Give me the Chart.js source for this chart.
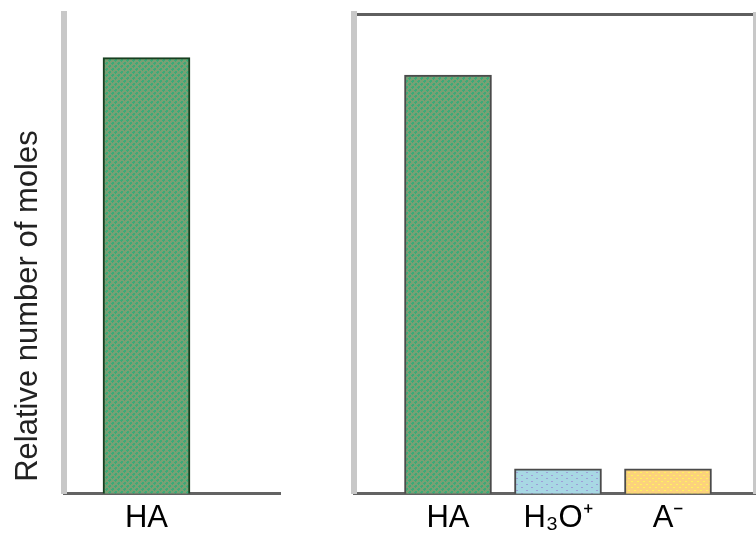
<!DOCTYPE html>
<html>
<head>
<meta charset="utf-8">
<script src="https://cdn.jsdelivr.net/npm/chart.js@4.4.1/dist/chart.umd.min.js"></script>
<style>
    html, body { margin: 0; padding: 0; background: #fff; }
    #wrap { position: relative; width: 756px; height: 543px; }
    #left-box { position: absolute; left: 0; top: 0; width: 300px; height: 543px; }
    #right-box { position: absolute; left: 300px; top: 0; width: 456px; height: 543px; }
</style>
</head>
<body>
<div id="wrap">
    <div id="left-box"><canvas id="chart-left" width="300" height="543"></canvas></div>
    <div id="right-box"><canvas id="chart-right" width="456" height="543"></canvas></div>
</div>
<script>
// before dissociation
const leftLabels = ['HA'];
const leftPositions = [1];
const leftValues = [100];

// after dissociation
const rightLabels = ['HA', 'H\u2083O\u207A', 'A\u207B'];
const rightPositions = [1, 2, 3];
const rightValues = [96, 5.7, 5.7];

const yTitle = 'Relative number of moles';
const yMax = 110;

Chart.defaults.font.family = "'Liberation Sans', Arial, sans-serif";
Chart.defaults.animation = false;

function makePattern(w, h, base, dot, isDot) {
    const c = document.createElement('canvas');
    c.width = w;
    c.height = h;
    const ctx = c.getContext('2d');
    ctx.fillStyle = base;
    ctx.fillRect(0, 0, w, h);
    ctx.fillStyle = dot;
    for (let y = 0; y < h; y++) {
        for (let x = 0; x < w; x++) {
            if (isDot(x, y)) ctx.fillRect(x, y, 1, 1);
        }
    }
    return ctx.createPattern(c, 'repeat');
}

const greenFill = makePattern(6, 6, '#78a174', '#3caa78', (x, y) => ((x + y) % 6) < 3 && ((x - y + 6) % 6) < 4);
const blueFill = makePattern(10, 6, '#a8d8e4', '#9e9ed8', (x, y) => (y === 1 && (x === 1 || x === 2)) || (y === 4 && (x === 6 || x === 7)));
const yellowFill = makePattern(6, 6, '#fcd27c', '#fff45c', (x, y) => (y === 1 && (x === 1 || x === 2)) || (y === 4 && (x === 4 || x === 5)));

function toPoints(positions, values) {
    return positions.map((p, i) => ({ x: p, y: values[i] }));
}

function xScale(labels, positions, min, max) {
    return {
        type: 'linear',
        position: 'bottom',
        offset: false,
        min: min,
        max: max,
        afterBuildTicks: scale => {
            scale.ticks = positions.map(p => ({ value: p }));
        },
        ticks: {
            padding: 6,
            color: '#000',
            font: { size: 31 },
            autoSkip: false,
            maxRotation: 0,
            callback: value => labels[positions.indexOf(value)] || ''
        },
        grid: { display: false, drawTicks: false, offset: false },
        border: { display: true, color: '#636363', width: 3 }
    };
}

// axis title sits a little above the axis bottom, so it is drawn here
const yTitlePlugin = {
    id: 'yTitle',
    afterDraw(chart) {
        const { ctx, chartArea } = chart;
        ctx.save();
        ctx.translate(28, chartArea.bottom - 12);
        ctx.rotate(-Math.PI / 2);
        ctx.font = "31px 'Liberation Sans', Arial, sans-serif";
        ctx.fillStyle = '#222';
        ctx.textAlign = 'left';
        ctx.textBaseline = 'middle';
        ctx.fillText(yTitle, 0, 0);
        ctx.restore();
    }
};

const leftChart = new Chart(document.getElementById('chart-left'), {
    type: 'bar',
    data: {
        datasets: [{
            data: toPoints(leftPositions, leftValues),
            backgroundColor: greenFill,
            borderColor: '#173f1f',
            borderWidth: 2,
            borderSkipped: 'bottom',
            barThickness: 87
        }]
    },
    options: {
        responsive: false,
        maintainAspectRatio: false,
        layout: { padding: { left: 64, right: 20, top: 14, bottom: 0 } },
        plugins: { legend: { display: false }, tooltip: { enabled: false } },
        scales: {
            x: xScale(leftLabels, leftPositions, 0.25, 2.2136),
            y: {
                min: 0,
                max: yMax,
                ticks: { display: false },
                grid: { display: false, drawTicks: false },
                border: { display: true, color: '#c8c8c8', width: 6 }
            }
        }
    },
    plugins: [yTitlePlugin]
});

const rightChart = new Chart(document.getElementById('chart-right'), {
    type: 'bar',
    data: {
        datasets: [{
            data: toPoints(rightPositions, rightValues),
            backgroundColor: [greenFill, blueFill, yellowFill],
            borderColor: '#4b4b4b',
            borderWidth: 2,
            borderSkipped: 'bottom',
            barThickness: 87
        }]
    },
    options: {
        responsive: false,
        maintainAspectRatio: false,
        layout: { padding: { left: 54, right: 1, top: 14, bottom: 0 } },
        plugins: { legend: { display: false }, tooltip: { enabled: false } },
        scales: {
            x: xScale(rightLabels, rightPositions, 0.1455, 3.791),
            x2: {
                type: 'linear',
                position: 'top',
                min: 0,
                max: 1,
                ticks: { display: false },
                grid: { display: false, drawTicks: false },
                border: { display: true, color: '#5f5f5f', width: 3 }
            },
            y: {
                min: 0,
                max: yMax,
                ticks: { display: false },
                grid: { display: false, drawTicks: false },
                border: { display: true, color: '#c8c8c8', width: 6 }
            },
            y2: {
                type: 'linear',
                position: 'right',
                min: 0,
                max: 1,
                ticks: { display: false },
                grid: { display: false, drawTicks: false },
                border: { display: true, color: '#c8c8c8', width: 4 }
            }
        }
    }
});
</script>
</body>
</html>
